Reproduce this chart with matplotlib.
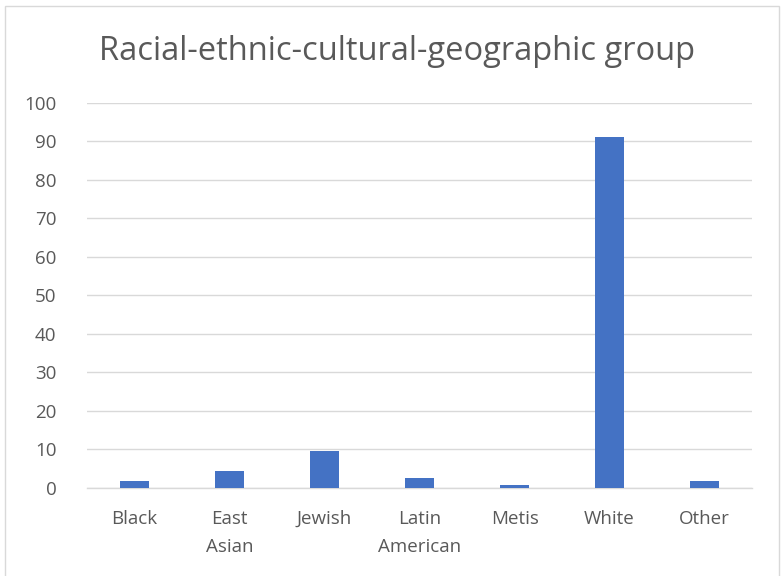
import matplotlib
matplotlib.use("Agg")
import matplotlib.pyplot as plt
from matplotlib.patches import Rectangle

categories = ["Black", "East\nAsian", "Jewish", "Latin\nAmerican", "Metis", "White", "Other"]
values = [1.8, 4.4, 9.6, 2.6, 0.8, 91.2, 1.8]
yticks = [0, 10, 20, 30, 40, 50, 60, 70, 80, 90, 100]
title = "Racial-ethnic-cultural-geographic group"

plt.rcParams['font.family'] = ['Open Sans', 'DejaVu Sans']
text_color = "#595959"
grid_color = "#D9D9D9"

fig = plt.figure(figsize=(7.81, 5.76), dpi=100)
fig.patches.append(Rectangle((0.007, -0.01), 0.99, 1.0, transform=fig.transFigure,
                             fill=False, edgecolor="#D9D9D9", linewidth=1))

ax = fig.add_axes([0.1114, 0.1528, 0.8516, 0.6684])
x = list(range(len(categories)))
ax.bar(x, values, width=0.313, color="#4472C4", zorder=3)

ax.set_xlim(-0.5, len(categories) - 0.5)
ax.set_ylim(0, 100)
ax.set_yticks(yticks)
ax.set_yticklabels([str(t) for t in yticks])
ax.set_xticks(x)
ax.set_xticklabels(categories, linespacing=1.7)

ax.grid(axis="y", color=grid_color, linewidth=1, zorder=0)
for s in ["top", "right", "left"]:
    ax.spines[s].set_visible(False)
ax.spines["bottom"].set_color(grid_color)
ax.spines["bottom"].set_linewidth(1)
ax.tick_params(axis="both", length=0, labelsize=13.5, colors=text_color)
ax.tick_params(axis="y", pad=22)
ax.tick_params(axis="x", pad=16)

fig.text(0.508, 0.91, title, ha="center", va="center", fontsize=23.5,
         color=text_color)

fig.savefig("out.png", dpi=100)
